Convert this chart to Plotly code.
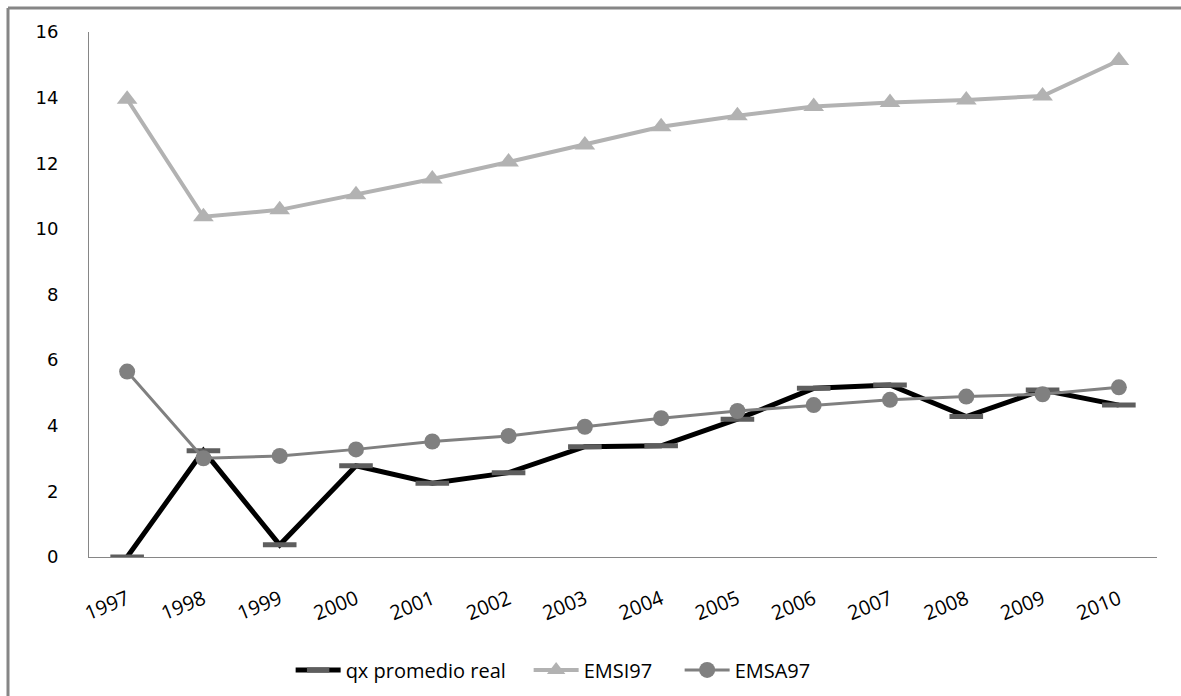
import plotly.graph_objects as go

years = ["1997", "1998", "1999", "2000", "2001", "2002", "2003",
         "2004", "2005", "2006", "2007", "2008", "2009", "2010"]

qx_real = [0.0, 3.24, 0.37, 2.78, 2.25, 2.57, 3.36,
           3.39, 4.20, 5.14, 5.24, 4.28, 5.09, 4.63]
emsi97 = [13.95, 10.37, 10.58, 11.04, 11.52, 12.04, 12.56,
          13.11, 13.45, 13.73, 13.85, 13.93, 14.05, 15.13]
emsa97 = [5.65, 3.01, 3.08, 3.28, 3.52, 3.69, 3.97,
          4.23, 4.45, 4.63, 4.79, 4.89, 4.96, 5.17]

y_ticks = [0, 2, 4, 6, 8, 10, 12, 14, 16]

W, H = 1181, 696
ML, MR, MT, MB = 89, 24, 32, 139
PW, PH = W - ML - MR, H - MT - MB

fig = go.Figure()

fig.add_trace(go.Scatter(
    x=years, y=qx_real, name="qx promedio real", mode="lines+markers",
    line=dict(color="#000000", width=5),
    marker=dict(symbol="line-ew", size=24, color="#5e5e5e",
                line=dict(color="#5e5e5e", width=5)),
    legendwidth=178,
))
fig.add_trace(go.Scatter(
    x=years, y=emsi97, name="EMSI97", mode="lines+markers",
    line=dict(color="#b2b2b2", width=4),
    marker=dict(symbol="triangle-up", size=18, color="#b2b2b2"),
    legendwidth=91,
))
fig.add_trace(go.Scatter(
    x=years, y=emsa97, name="EMSA97", mode="lines+markers",
    line=dict(color="#808080", width=3),
    marker=dict(symbol="circle", size=16, color="#808080"),
))

# chart frame: top and left edges, running to the figure's own border
fx0 = (8 - ML) / PW
fx1 = (W - ML) / PW
fy0 = -MB / PH
fy1 = (H - MB - 8) / PH
frame = dict(color="#868686", width=3)
fig.add_shape(type="line", xref="paper", yref="paper",
              x0=fx0, x1=fx1, y0=fy1, y1=fy1, line=frame, layer="below")
fig.add_shape(type="line", xref="paper", yref="paper",
              x0=fx0, x1=fx0, y0=fy0, y1=fy1, line=frame, layer="below")

fig.update_layout(
    width=W, height=H,
    margin=dict(l=ML, r=MR, t=MT, b=MB, autoexpand=False),
    paper_bgcolor="white", plot_bgcolor="white",
    font=dict(family="Open Sans", color="#000000"),
    showlegend=True,
    legend=dict(orientation="h", x=0.1888, y=-0.215,
                xanchor="left", yanchor="middle",
                font=dict(family="Open Sans", size=20, color="#000000"),
                itemwidth=45, tracegroupgap=0),
    xaxis=dict(type="category", range=[-0.5, 13.5], automargin=False,
               showline=True, linecolor="#868686", linewidth=1,
               showgrid=False, ticks="", tickangle=-22,
               ticklabelstandoff=22,
               tickfont=dict(family="Open Sans", size=20, color="#000000")),
    yaxis=dict(range=[0, 16], tickvals=y_ticks, automargin=False,
               showline=True, linecolor="#868686", linewidth=1,
               showgrid=False, zeroline=False, ticks="",
               ticklabelstandoff=26,
               tickfont=dict(family="DejaVu Sans", size=18, color="#000000")),
)

fig.write_html("out.html")
